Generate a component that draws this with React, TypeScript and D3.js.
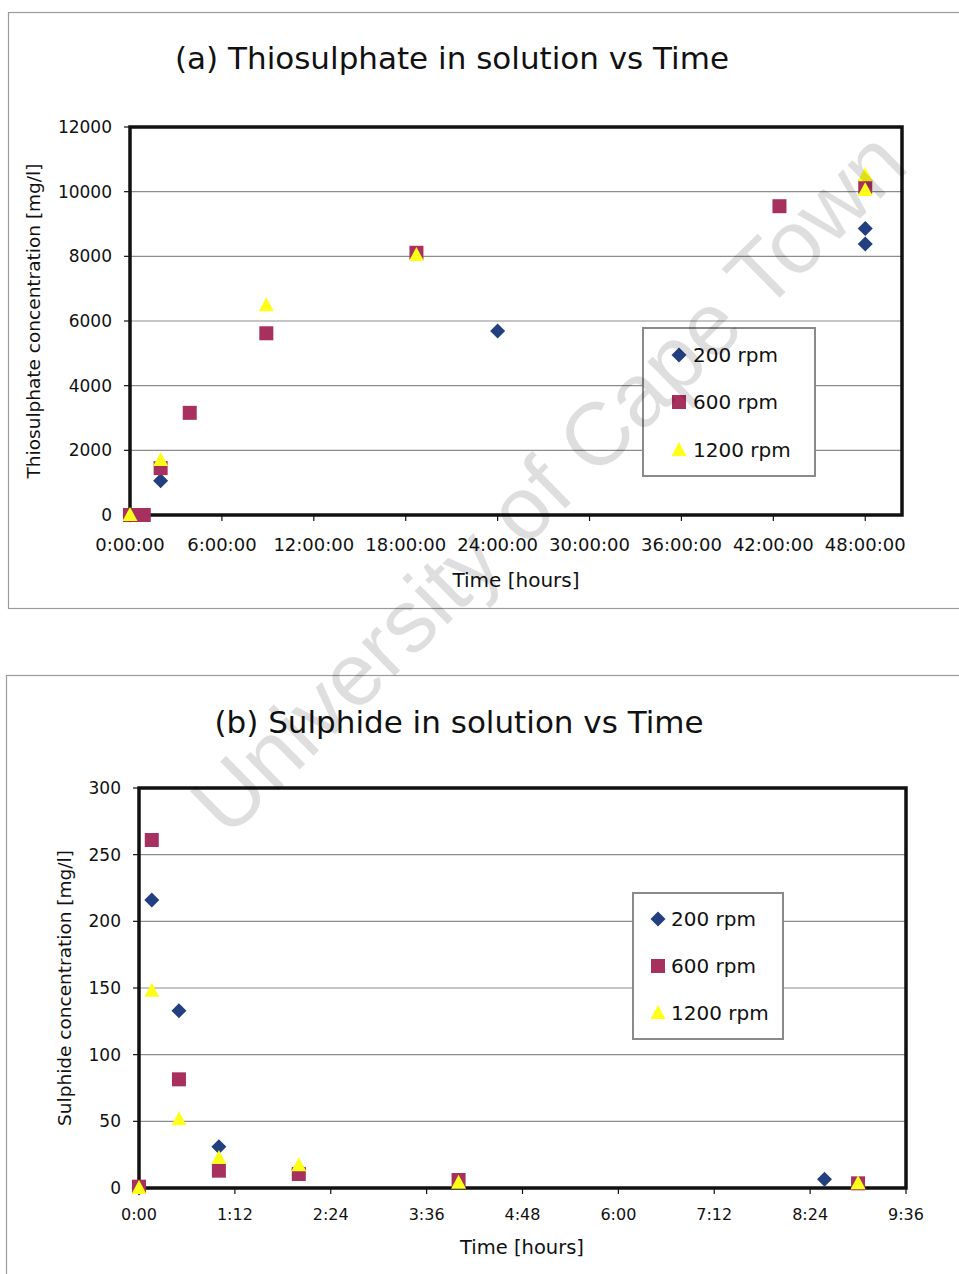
import React from "react";
import * as d3 from "d3";

// (a) thiosulphate, time in hours, concentration in mg/l
const thioRpm200: [number, number][] = [[0, 0], [2, 1060], [24, 5690], [48, 8860], [48, 8380]];
const thioRpm600: [number, number][] = [[0, 0], [0.9, 0], [2, 1450], [3.9, 3160], [8.9, 5620], [18.7, 8110], [42.4, 9550], [48, 10150]];
const thioRpm1200: [number, number][] = [[0, 0], [2, 1700], [8.9, 6490], [18.7, 8040], [48, 10510], [48, 10050]];
const thioYTicks = [0, 2000, 4000, 6000, 8000, 10000, 12000];
const thioXTicks = [0, 6, 12, 18, 24, 30, 36, 42, 48];

// (b) sulphide
const sulRpm200: [number, number][] = [[0, 0], [0.16, 216], [0.5, 133], [1.0, 31], [2.0, 14], [8.58, 6.5]];
const sulRpm600: [number, number][] = [[0, 1], [0.16, 261], [0.5, 81.5], [1.0, 13], [2.0, 10.5], [4.0, 6], [9.0, 3.5]];
const sulRpm1200: [number, number][] = [[0, 0], [0.16, 148], [0.5, 51.5], [1.0, 22.5], [2.0, 17], [4.0, 4], [9.0, 3.5]];
const sulYTicks = [0, 50, 100, 150, 200, 250, 300];
const sulXTicks = [0, 1.2, 2.4, 3.6, 4.8, 6.0, 7.2, 8.4, 9.6];

const seriesNames = ["200 rpm", "600 rpm", "1200 rpm"];
const seriesColors = ["#223f80", "#a8305f", "#ffff1a"];

const FONT = "DejaVu Sans, Verdana, sans-serif";

const Marker = ({ kind, x, y }: { kind: number; x: number; y: number }) => {
	if (kind === 0) {
		return <path d={`M${x},${y - 7.5}L${x + 7.5},${y}L${x},${y + 7.5}L${x - 7.5},${y}Z`} fill={seriesColors[0]} />;
	}
	if (kind === 1) {
		return <rect x={x - 7} y={y - 7} width={14} height={14} fill={seriesColors[1]} />;
	}
	return <path d={`M${x},${y - 8}L${x + 7.5},${y + 6}L${x - 7.5},${y + 6}Z`} fill={seriesColors[2]} />;
};

interface PanelProps {
	title: string;
	titleX: number;
	titleY: number;
	series: [number, number][][];
	xDomain: [number, number];
	xRange: [number, number];
	yDomain: [number, number];
	yRange: [number, number];
	xTicks: number[];
	yTicks: number[];
	xFormat: (v: number) => string;
	xTickSize: number;
	yTickSize: number;
	yLabel: string;
	yLabelX: number;
	xLabelPos: [number, number];
	xLabelSize: number;
	tickLabelGap: number;
	yTickRight: number;
	legend: { x: number; y: number; w: number; h: number; rows: number[]; markerX: number; textX: number };
}

const Panel: React.FC<PanelProps> = (p) => {
	const x = d3.scaleLinear().domain(p.xDomain).range(p.xRange);
	const y = d3.scaleLinear().domain(p.yDomain).range(p.yRange);
	const [x0, x1] = p.xRange;
	const [y0, y1] = p.yRange;

	return (
		<g fontFamily={FONT} fill="#111">
			<text x={p.titleX} y={p.titleY} textAnchor="middle" dominantBaseline="central" fontSize={31}>
				{p.title}
			</text>

			{p.yTicks.filter((t) => t !== 0).map((t) => (
				<line key={`g${t}`} x1={x0} x2={x1} y1={y(t)} y2={y(t)} stroke="#8c8c8c" strokeWidth={1.2} />
			))}

			{p.yTicks.map((t) => (
				<g key={`y${t}`}>
					<line x1={x0 - 6} x2={x0} y1={y(t)} y2={y(t)} stroke="#111" strokeWidth={1.2} />
					<text x={p.yTickRight} y={y(t)} textAnchor="end" dominantBaseline="central" fontSize={p.yTickSize}>
						{t}
					</text>
				</g>
			))}

			{p.xTicks.map((t) => (
				<g key={`x${t}`}>
					<line x1={x(t)} x2={x(t)} y1={y0} y2={y0 + 6} stroke="#111" strokeWidth={1.2} />
					<text x={x(t)} y={y0 + p.tickLabelGap} textAnchor="middle" dominantBaseline="central" fontSize={p.xTickSize}>
						{p.xFormat(t)}
					</text>
				</g>
			))}

			<text
				transform={`translate(${p.yLabelX},${(y0 + y1) / 2}) rotate(-90)`}
				textAnchor="middle"
				dominantBaseline="central"
				fontSize={18.5}
			>
				{p.yLabel}
			</text>
			<text x={p.xLabelPos[0]} y={p.xLabelPos[1]} textAnchor="middle" dominantBaseline="central" fontSize={p.xLabelSize}>
				Time [hours]
			</text>

			{/* legend box sits under the markers */}
			<rect x={p.legend.x} y={p.legend.y} width={p.legend.w} height={p.legend.h} fill="#fff" stroke="#8a8a8a" strokeWidth={2} />
			{seriesNames.map((name, i) => (
				<g key={name}>
					<Marker kind={i} x={p.legend.markerX} y={p.legend.rows[i]} />
					<text x={p.legend.textX} y={p.legend.rows[i]} dominantBaseline="central" fontSize={20}>
						{name}
					</text>
				</g>
			))}

			<rect x={x0} y={y1} width={x1 - x0} height={y0 - y1} fill="none" stroke="#111" strokeWidth={3.5} />

			{p.series.map((pts, i) => (
				<g key={i}>
					{pts.map((d, j) => (
						<Marker key={j} kind={i} x={x(d[0])} y={y(d[1])} />
					))}
				</g>
			))}
		</g>
	);
};

const fmtLong = (h: number) => `${Math.round(h)}:00:00`;
const fmtShort = (h: number) => {
	const mins = Math.round(h * 60);
	return `${Math.floor(mins / 60)}:${String(mins % 60).padStart(2, "0")}`;
};

export default function App() {
	return (
		<svg width={959} height={1274} style={{ position: "absolute", left: 0, top: 0, background: "#fff" }}>
			<rect x={0} y={0} width={959} height={1274} fill="#fff" />
			<rect x={8.5} y={12.5} width={980} height={596} fill="none" stroke="#9a9a9a" strokeWidth={1.2} />
			<rect x={6.5} y={675.5} width={980} height={700} fill="none" stroke="#9a9a9a" strokeWidth={1.2} />

			<Panel
				title="(a) Thiosulphate in solution vs Time"
				titleX={452}
				titleY={58}
				series={[thioRpm200, thioRpm600, thioRpm1200]}
				xDomain={[0, 50.4]}
				xRange={[130, 902]}
				yDomain={[0, 12000]}
				yRange={[515, 127]}
				xTicks={thioXTicks}
				yTicks={thioYTicks}
				xFormat={fmtLong}
				xTickSize={18}
				yTickSize={17}
				yLabel="Thiosulphate concentration [mg/l]"
				yLabelX={33}
				xLabelPos={[516, 580]}
				xLabelSize={20}
				tickLabelGap={29}
				yTickRight={112}
				legend={{ x: 643, y: 328, w: 172, h: 148, rows: [355, 402, 450], markerX: 679, textX: 693 }}
			/>

			<Panel
				title="(b) Sulphide in solution vs Time"
				titleX={459}
				titleY={722}
				series={[sulRpm200, sulRpm600, sulRpm1200]}
				xDomain={[0, 9.6]}
				xRange={[139, 906]}
				yDomain={[0, 300]}
				yRange={[1188, 788]}
				xTicks={sulXTicks}
				yTicks={sulYTicks}
				xFormat={fmtShort}
				xTickSize={16}
				yTickSize={17}
				yLabel="Sulphide concentration [mg/l]"
				yLabelX={64}
				xLabelPos={[522, 1247]}
				xLabelSize={19.5}
				tickLabelGap={26}
				yTickRight={121}
				legend={{ x: 633, y: 893, w: 150, h: 146, rows: [919, 966, 1013], markerX: 658, textX: 671 }}
			/>

			<text
				transform="translate(548,482) rotate(-44.5)"
				textAnchor="middle"
				dominantBaseline="central"
				fontFamily="Liberation Sans, Arial, sans-serif"
				fontSize={89}
				fill="#000"
				fillOpacity={0.13}
			>
				University of Cape Town
			</text>
		</svg>
	);
}
